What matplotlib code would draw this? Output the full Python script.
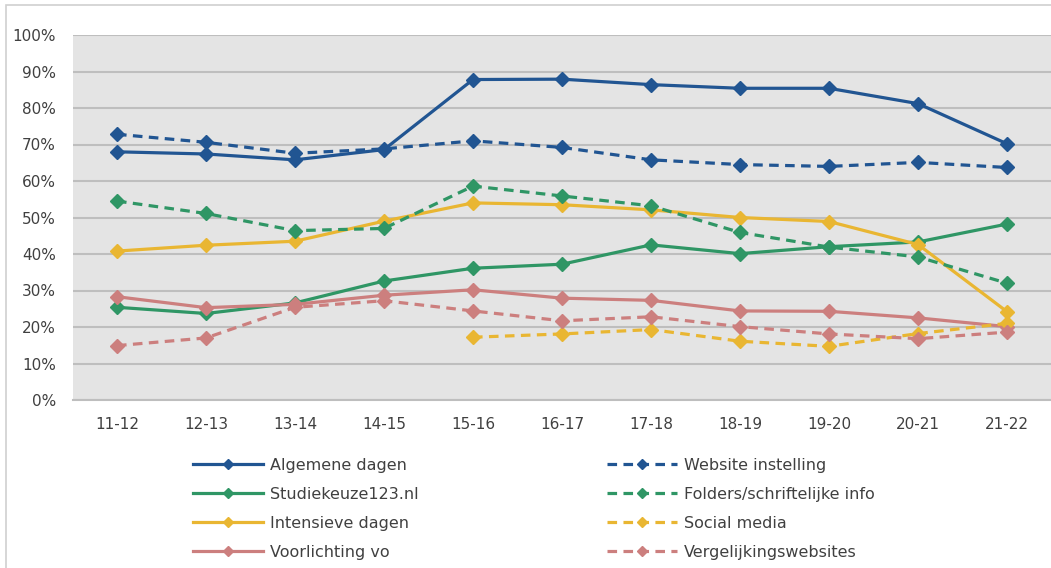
import matplotlib
matplotlib.use('Agg')
import matplotlib.pyplot as plt
from matplotlib.patches import Rectangle
from matplotlib.ticker import PercentFormatter

years = ['11-12', '12-13', '13-14', '14-15', '15-16', '16-17',
         '17-18', '18-19', '19-20', '20-21', '21-22']

algemene_dagen = [68.0, 67.4, 65.8, 68.6, 87.8, 87.9, 86.4, 85.4, 85.4, 81.2, 70.2]
website_instelling = [72.8, 70.6, 67.6, 68.8, 71.0, 69.2, 65.8, 64.5, 64.0, 65.1, 63.7]
studiekeuze123 = [25.4, 23.7, 26.6, 32.6, 36.1, 37.2, 42.5, 40.1, 42.0, 43.3, 48.2]
folders = [54.5, 51.1, 46.4, 47.0, 58.6, 55.9, 53.2, 45.9, 41.9, 39.2, 32.0]
intensieve_dagen = [40.8, 42.4, 43.5, 49.0, 54.0, 53.5, 52.1, 50.0, 48.9, 42.6, 24.2]
social_media = [None, None, None, None, 17.2, 18.1, 19.3, 16.1, 14.7, 18.2, 21.0]
voorlichting_vo = [28.3, 25.3, 26.2, 28.7, 30.2, 27.9, 27.3, 24.4, 24.3, 22.5, 20.1]
vergelijkingswebsites = [14.9, 17.0, 25.4, 27.2, 24.4, 21.7, 22.8, 20.1, 18.1, 16.8, 18.6]

BLUE = '#215592'
GREEN = '#2F9665'
YELLOW = '#E9B632'
PINK = '#CC7F7E'

solid_series = [
    ('Algemene dagen', algemene_dagen, BLUE),
    ('Studiekeuze123.nl', studiekeuze123, GREEN),
    ('Intensieve dagen', intensieve_dagen, YELLOW),
    ('Voorlichting vo', voorlichting_vo, PINK),
]
dashed_series = [
    ('Website instelling', website_instelling, BLUE),
    ('Folders/schriftelijke info', folders, GREEN),
    ('Social media', social_media, YELLOW),
    ('Vergelijkingswebsites', vergelijkingswebsites, PINK),
]

fig = plt.figure(figsize=(10.51, 5.68), dpi=100)
fig.patches.append(Rectangle((5.5 / 1051, -0.1), 1.2, 1.1 - 5.5 / 568,
                             transform=fig.transFigure, fill=False,
                             edgecolor='#D0D0D0', linewidth=1.2))

ax = fig.add_axes([72.5 / 1051, 1 - 400 / 568, 979 / 1051, 365 / 568])
ax.set_facecolor('#E4E4E4')

x = list(range(len(years)))


def draw(series, style):
    handles = []
    for name, vals, color in series:
        xs = [i for i, v in zip(x, vals) if v is not None]
        ys = [v for v in vals if v is not None]
        line, = ax.plot(xs, ys, color=color, linewidth=2.3, linestyle=style,
                        marker='D', markersize=7, label=name, zorder=3)
        handles.append(line)
    return handles


solid_handles = draw(solid_series, '-')
dashed_handles = draw(dashed_series, (0, (3, 2)))

ax.set_xlim(-0.5, len(years) - 0.5)
ax.set_ylim(0, 100)
ax.set_yticks(range(0, 101, 10))
ax.yaxis.set_major_formatter(PercentFormatter(decimals=0))
ax.set_xticks(x)
ax.set_xticklabels(years)
ax.grid(axis='y', color='#BEBEBE', linewidth=1.5)
ax.set_axisbelow(True)
for side in ['top', 'right', 'left']:
    ax.spines[side].set_visible(False)
ax.spines['bottom'].set_color('#BEBEBE')
ax.spines['bottom'].set_linewidth(1.5)
ax.tick_params(length=0, labelsize=11, labelcolor='#404040')
ax.tick_params(axis='y', pad=12)
ax.tick_params(axis='x', pad=12)

leg_opts = dict(loc='upper left', frameon=False, fontsize=11.5,
                handlelength=4.4, handletextpad=0.42, labelspacing=0.87,
                borderpad=0, borderaxespad=0, markerscale=0.75)
leg1 = fig.legend(handles=solid_handles, bbox_to_anchor=(193 / 1051, 1 - 458 / 568),
                  **leg_opts)
leg2 = fig.legend(handles=dashed_handles, bbox_to_anchor=(607 / 1051, 1 - 458 / 568),
                  **leg_opts)
for leg in (leg1, leg2):
    for t in leg.get_texts():
        t.set_color('#404040')

fig.savefig('out.png', dpi=100)
